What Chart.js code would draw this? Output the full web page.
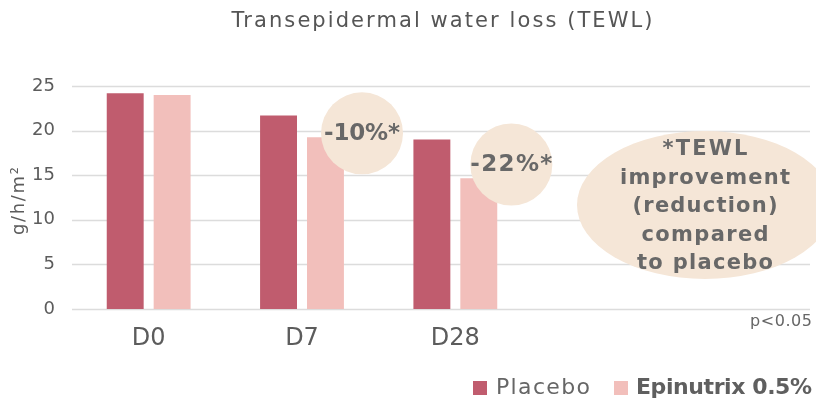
<!DOCTYPE html>
<html>
<head>
<meta charset="utf-8">
<script src="https://cdn.jsdelivr.net/npm/chart.js@4.4.1/dist/chart.umd.min.js"></script>
<style>
  html, body { margin: 0; padding: 0; background: #fff; }
  #wrap { width: 816px; height: 400px; position: relative; }
</style>
</head>
<body>
<div id="wrap"><canvas id="tewlChart" width="816" height="400"></canvas></div>
<script>
// --- data ---
const categories = ['D0', 'D7', 'D28'];
const placeboValues = [24.2, 21.7, 19.0];
const epinutrixValues = [24.0, 19.25, 14.65];
const reductionLabels = ['', '-10%*', '-22%*'];
const yTicks = [0, 5, 10, 15, 20, 25];
const noteLines = ['*TEWL', 'improvement', '(reduction)', 'compared', 'to placebo'];
const noteWidths = [85, 170, 145, 127, 136];

const FONT = '"DejaVu Sans", Lato, sans-serif';
const GREY = '#5c5c5c';
const BEIGE = '#f5e6d7';
const PLACEBO = '#c05c6e';
const EPI = '#f2bfbb';

// draw text stretched/squeezed (letter spacing) to the width seen in the reference
function fitText(c, text, cx, cy, width) {
    c.letterSpacing = '0px';
    const w = c.measureText(text).width;
    const s = (width - w) / Math.max(1, text.length - 1);
    c.letterSpacing = s + 'px';
    c.textAlign = 'left';
    c.fillText(text, cx - width / 2, cy);
    c.letterSpacing = '0px';
}

// draws grid, title, badges, note bubble, legend
const extras = {
    id: 'extras',
    beforeDatasetsDraw(chart) {
        const c = chart.ctx;
        const y = chart.scales.y;
        c.save();
        c.strokeStyle = '#dcdcdc';
        c.lineWidth = 1.5;
        yTicks.forEach(t => {
            const py = Math.round(y.getPixelForValue(t)) + 0.5;
            c.beginPath();
            c.moveTo(chart.chartArea.left, py);
            c.lineTo(810, py);
            c.stroke();
        });
        c.restore();
    },
    afterDraw(chart) {
        const c = chart.ctx;
        const x = chart.scales.x;
        const y = chart.scales.y;
        c.save();
        c.textBaseline = 'middle';

        // title
        c.fillStyle = '#555';
        c.font = '21px ' + FONT;
        fitText(c, 'Transepidermal water loss (TEWL)', 442, 22, 421);

        // y axis title
        c.save();
        c.translate(19, 201);
        c.rotate(-Math.PI / 2);
        c.fillStyle = GREY;
        c.font = '18px ' + FONT;
        fitText(c, 'g/h/m²', 0, 0, 68);
        c.restore();

        // reduction badges
        const badgeOffsets = [[0, 0], [60, 19.7], [56, 16.2]];
        const badgeWidths = [0, 76, 82];
        reductionLabels.forEach((lab, i) => {
            if (!lab) return;
            const cx = x.getPixelForValue(i) + badgeOffsets[i][0];
            const cy = y.getPixelForValue(badgeOffsets[i][1]);
            c.fillStyle = BEIGE;
            c.beginPath();
            c.arc(cx, cy, 41, 0, Math.PI * 2);
            c.fill();
            c.fillStyle = '#686868';
            c.font = 'bold 23px ' + FONT;
            fitText(c, lab, cx, cy + 1, badgeWidths[i]);
        });

        // note bubble
        c.fillStyle = BEIGE;
        c.beginPath();
        c.ellipse(705, 205, 128, 74, 0, 0, Math.PI * 2);
        c.fill();
        c.fillStyle = '#686868';
        c.font = 'bold 21px ' + FONT;
        noteLines.forEach((line, i) => fitText(c, line, 705, 150 + i * 28.5, noteWidths[i]));

        // p-value
        c.fillStyle = '#666';
        c.font = '16px ' + FONT;
        fitText(c, 'p<0.05', 781, 322, 62);

        // legend
        c.fillStyle = PLACEBO;
        c.fillRect(473, 381, 14, 14);
        c.fillStyle = '#666';
        c.font = '22px ' + FONT;
        fitText(c, 'Placebo', 543, 388, 94);
        c.fillStyle = EPI;
        c.fillRect(614, 381, 14, 14);
        c.fillStyle = '#5f5f5f';
        c.font = 'bold 22px ' + FONT;
        fitText(c, 'Epinutrix 0.5%', 724, 388, 176);
        c.restore();
    }
};

const ctx = document.getElementById('tewlChart').getContext('2d');
new Chart(ctx, {
    type: 'bar',
    data: {
        labels: categories,
        datasets: [
            { label: 'Placebo', data: placeboValues, backgroundColor: PLACEBO },
            { label: 'Epinutrix 0.5%', data: epinutrixValues, backgroundColor: EPI }
        ]
    },
    options: {
        responsive: false,
        animation: false,
        layout: { padding: { top: 86, right: 284, left: 0, bottom: 0 } },
        datasets: { bar: { categoryPercentage: 0.612, barPercentage: 0.787 } },
        scales: {
            x: {
                grid: { display: false },
                border: { display: false },
                ticks: { color: GREY, font: { family: FONT, size: 24 }, padding: 7 },
                afterFit(scale) { scale.height = 91; }
            },
            y: {
                min: 0, max: 25,
                grid: { display: false },
                border: { display: false },
                afterBuildTicks(scale) { scale.ticks = yTicks.map(v => ({ value: v })); },
                ticks: { color: GREY, font: { family: FONT, size: 18 }, padding: 9 },
                afterFit(scale) { scale.width = 72; }
            }
        },
        plugins: { legend: { display: false }, tooltip: { enabled: false } }
    },
    plugins: [extras]
});
</script>
</body>
</html>
